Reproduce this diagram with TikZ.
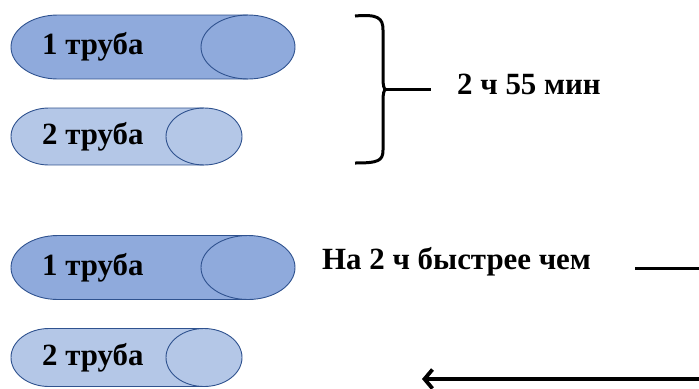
\documentclass[tikz,border=0pt]{standalone}
\usepackage{fontspec}
\setmainfont{Liberation Serif}
\usetikzlibrary{arrows.meta}
\definecolor{cylA}{HTML}{8FAADC}
\definecolor{cylB}{HTML}{B4C7E7}
\definecolor{cylLine}{HTML}{2F528F}
\tikzset{
  lbl/.style={anchor=base west, inner sep=0pt, font=\fontsize{31}{33}\selectfont\bfseries},
  cylout/.style={draw=cylLine, line width=0.9bp},
  heavy/.style={draw=black, line width=3.8bp},
}
% \mycyl{x0}{x1}{yc}{rx}{ry}{fill}
\newcommand{\mycyl}[6]{%
  \fill[#6] (#1+#4,#3) ellipse[x radius=#4, y radius=#5];
  \fill[#6] (#1+#4,#3-#5) rectangle (#2-#4,#3+#5);
  \fill[#6] (#2-#4,#3) ellipse[x radius=#4, y radius=#5];
  \draw[cylout] (#2-#4,#3-#5) -- (#1+#4,#3-#5)
    arc[start angle=270, end angle=90, x radius=#4, y radius=#5]
    -- (#2-#4,#3+#5);
  \draw[cylout] (#2-#4,#3) ellipse[x radius=#4, y radius=#5];
}
\begin{document}
\begin{tikzpicture}[x=1bp,y=-1bp]
\useasboundingbox (0,0) rectangle (699,388);
% cylinders
\mycyl{11}{295}{47}{47}{32}{cylA}
\mycyl{11}{242}{136.5}{38}{28.5}{cylB}
\mycyl{11}{295}{267.5}{47}{32}{cylA}
\mycyl{11}{242}{357.5}{38}{29}{cylB}
% labels
\node[lbl] (t1) at (42,54) {1 труба};
\node[lbl] (t2) at (42,144) {2 труба};
\node[lbl] (t3) at (42,275) {1 труба};
\node[lbl] (t4) at (42,365) {2 труба};
\node[lbl] (sum) at (457,94) {2 ч 55 мин};
\node[lbl] (fast) at (322,269) {На 2 ч быстрее чем};
% brace
\coordinate (btop) at (355,16);
\coordinate (btip) at (386,89.5);
\coordinate (bbot) at (355,163);
\coordinate (bend) at (431,89.5);
\draw[draw=black, line width=3bp, line join=round]
  (btop) .. controls (378,14) and (383,18) .. (383,30) -- (383,78)
  .. controls (383,86) and (384,89.5) .. (btip)
  .. controls (384,89.5) and (383,93) .. (383,101) -- (383,150)
  .. controls (383,161) and (378,163) .. (bbot);
\draw[draw=black, line width=3bp] (btip) -- (bend);
% connectors (cut off at the right edge)
\coordinate (l1a) at (635,268.5);
\coordinate (l1b) at (699,268.5);
\coordinate (l2a) at (699,379);
\coordinate (l2b) at (422,379);
\draw[heavy] (l1a) -- (l1b);
\draw[heavy, -{Straight Barb[length=8bp,width=19bp]}] (l2a) -- (l2b);
\end{tikzpicture}
\end{document}
